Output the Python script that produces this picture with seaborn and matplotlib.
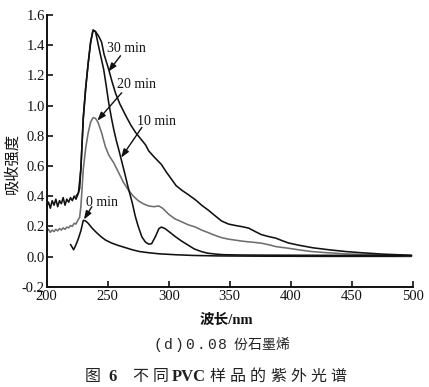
import matplotlib
matplotlib.use('Agg')

import matplotlib.pyplot as plt
import pandas as pd
import seaborn as sns

# UV spectra of PVC samples (0.08 parts graphene)
wl_30 = [200, 201.5, 203, 204.5, 206, 207.5, 209, 210.5, 212, 213.5, 215, 216.5, 218, 219.5,
         221, 222.5, 224, 225.5, 227, 228, 229, 230, 232, 234, 236, 238, 240, 242.6, 245, 247,
         250.8, 253.5, 256.5, 260, 265, 269, 273, 277, 281, 283.6, 288, 294, 298, 302.5, 306,
         310.6, 316, 322, 327, 332.8, 338, 343.4, 349, 355, 360, 365.6, 371, 376, 382, 387.7,
         393, 398, 406.6, 418, 431, 445, 458, 475, 499]
abs_30 = [0.33, 0.36, 0.32, 0.37, 0.34, 0.38, 0.33, 0.37, 0.35, 0.39, 0.34, 0.38, 0.36, 0.39,
          0.37, 0.40, 0.38, 0.41, 0.45, 0.58, 0.75, 0.92, 1.12, 1.28, 1.42, 1.50, 1.49, 1.46, 1.42, 1.34,
          1.24, 1.16, 1.08, 1.01, 0.93, 0.87, 0.82, 0.78, 0.74, 0.70, 0.66, 0.61, 0.56, 0.51, 0.47,
          0.44, 0.41, 0.375, 0.34, 0.305, 0.27, 0.235, 0.215, 0.205, 0.198, 0.188, 0.165, 0.145, 0.132, 0.122,
          0.105, 0.09, 0.075, 0.058, 0.045, 0.033, 0.025, 0.016, 0.008]

wl_20 = [200, 201.5, 203, 204.5, 206, 207.5, 209, 210.5, 212, 213.5, 215, 216.5, 218, 219.5,
         221, 222.5, 224, 225.5, 227, 228, 229, 230, 232, 234, 236, 238, 240, 242, 245, 248,
         251, 255, 259, 263, 267, 271, 275, 279, 283.6, 288, 291.8, 295, 300, 305, 310.6,
         316, 322, 327, 332.8, 338, 343.4, 349, 355, 360, 365.6, 371, 376, 382, 387.7, 393,
         398, 406, 417, 430, 444, 460, 480, 499]
abs_20 = [0.165, 0.18, 0.16, 0.175, 0.165, 0.18, 0.17, 0.185, 0.175, 0.19, 0.18, 0.195, 0.19, 0.205,
          0.20, 0.22, 0.215, 0.24, 0.26, 0.33, 0.45, 0.58, 0.72, 0.82, 0.89, 0.92, 0.915, 0.89, 0.82, 0.73,
          0.67, 0.62, 0.555, 0.49, 0.44, 0.40, 0.37, 0.35, 0.335, 0.33, 0.335, 0.32, 0.28, 0.25, 0.23,
          0.21, 0.195, 0.175, 0.157, 0.14, 0.125, 0.115, 0.108, 0.102, 0.097, 0.093, 0.088, 0.078, 0.066, 0.06,
          0.055, 0.045, 0.033, 0.025, 0.018, 0.013, 0.009, 0.006]

wl_10 = [224, 226, 228, 229, 230, 232, 234, 236, 238, 240, 242.6, 244.5, 246.7, 248.8, 250.8,
         253, 255, 257, 259, 261.5, 264, 267, 270, 272.5, 275, 278, 281, 283.6, 286, 289, 292,
         294, 297, 301, 305.7, 311, 316, 321, 327, 332, 338.5, 345, 360, 380, 420, 460, 499]
abs_10 = [0.40, 0.42, 0.58, 0.75, 0.92, 1.12, 1.28, 1.42, 1.50, 1.49, 1.39, 1.32, 1.24, 1.13, 1.02,
          0.92, 0.84, 0.77, 0.71, 0.63, 0.55, 0.45, 0.36, 0.27, 0.20, 0.13, 0.095, 0.082, 0.085, 0.13, 0.185,
          0.195, 0.185, 0.16, 0.13, 0.10, 0.075, 0.05, 0.032, 0.022, 0.016, 0.012, 0.01, 0.009, 0.008, 0.007, 0.006]

wl_0 = [219.5, 221, 222, 223, 224.6, 226, 228, 230, 232, 234, 237, 240, 244, 248, 253, 258,
        264, 270, 276, 283.6, 292, 305, 320, 340, 380, 430, 499]
abs_0 = [0.08, 0.06, 0.045, 0.06, 0.09, 0.12, 0.17, 0.24, 0.235, 0.22, 0.19, 0.165, 0.135, 0.11, 0.09, 0.075,
         0.06, 0.045, 0.033, 0.025, 0.018, 0.012, 0.007, 0.004, 0.002, 0.001, 0.001]

x_ticks = [200, 250, 300, 350, 400, 450, 500]
y_ticks = [-0.2, 0.0, 0.2, 0.4, 0.6, 0.8, 1.0, 1.2, 1.4, 1.6]

sns.set_style("ticks")
plt.rcParams['font.family'] = ['Liberation Serif', 'Noto Sans CJK SC']
cjk = ['Liberation Serif', 'Noto Sans CJK SC']

W, H = 429, 387
fig = plt.figure(figsize=(W / 100, H / 100), dpi=100)
ax = fig.add_axes([46.7 / W, 1 - 286.7 / H, (412.7 - 46.7) / W, (286.7 - 15) / H])

black = '#111111'
gray = '#6e6e6e'
for wl, ab, col in [(wl_0, abs_0, black), (wl_20, abs_20, gray),
                    (wl_10, abs_10, black), (wl_30, abs_30, black)]:
    df = pd.DataFrame({'wl': wl, 'abs': ab})
    sns.lineplot(data=df, x='wl', y='abs', color=col, lw=1.15, ax=ax)

ax.set_xlim(200, 500)
ax.set_ylim(-0.2, 1.6)
ax.set_xticks(x_ticks)
ax.set_xticklabels([str(t) for t in x_ticks])
ax.set_yticks(y_ticks)
ax.set_yticklabels([f'{t:.1f}' for t in y_ticks])
ax.tick_params(direction='in', length=4, width=1.2, labelsize=10.5, colors=black)
ax.tick_params(axis='y', pad=1.5)
ax.tick_params(axis='x', pad=2.5)
ax.set_xlabel('')
ax.set_ylabel('')
sns.despine(ax=ax)
for s in ['left', 'bottom']:
    ax.spines[s].set_linewidth(1.4)
    ax.spines[s].set_color(black)

# curve labels with arrows
labels = [('30 min', (265, 1.376), (260.5, 1.33), (250.5, 1.225)),
          ('20 min', (274, 1.138), (261.5, 1.085), (241.5, 0.90)),
          ('10 min', (290, 0.893), (278, 0.855), (261, 0.655)),
          ('0 min', (245.5, 0.356), (237, 0.33), (230.5, 0.245))]
for txt, pos, tail, tip in labels:
    ax.text(pos[0], pos[1], txt, ha='center', va='center', fontsize=10, color=black)
    ax.annotate('', xy=tip, xytext=tail,
                arrowprops=dict(arrowstyle='-|>,head_length=0.5,head_width=0.18',
                                color=black, lw=1.0, shrinkA=0, shrinkB=0))


def px(x, y):
    return x / W, 1 - y / H


def spaced(s, x0, x1, y, **kw):
    # evenly spaced characters, like the typeset caption
    step = (x1 - x0) / len(s)
    for i, ch in enumerate(s):
        fig.text(*px(x0 + (i + 0.5) * step, y), ch, ha='center', va='center', **kw)


fig.text(*px(12, 164), '吸收强度', rotation=90, ha='center', va='center',
         fontsize=11, family=cjk, color=black)
fig.text(*px(226, 320), '波长/nm', ha='center', va='center',
         fontsize=10.5, family=cjk, weight='bold', color=black)

spaced('(d)0.08', 152, 228, 345, fontsize=10.5, family='Liberation Mono', color='#222222')
spaced('份石墨烯', 233, 290, 345, fontsize=10, family=cjk, color='#222222')

spaced('图', 84, 101, 377, fontsize=11.5, family=cjk, color='#222222')
fig.text(*px(113, 377), '6', ha='center', va='center', fontsize=12, weight='bold', color='#222222')
spaced('不同', 131, 170, 377, fontsize=11.5, family=cjk, color='#222222')
fig.text(*px(189, 377), 'PVC', ha='center', va='center', fontsize=12, weight='bold', color='#222222')
spaced('样品的紫外光谱', 208, 348, 377, fontsize=11.5, family=cjk, color='#222222')

fig.savefig('out.png', dpi=100)
